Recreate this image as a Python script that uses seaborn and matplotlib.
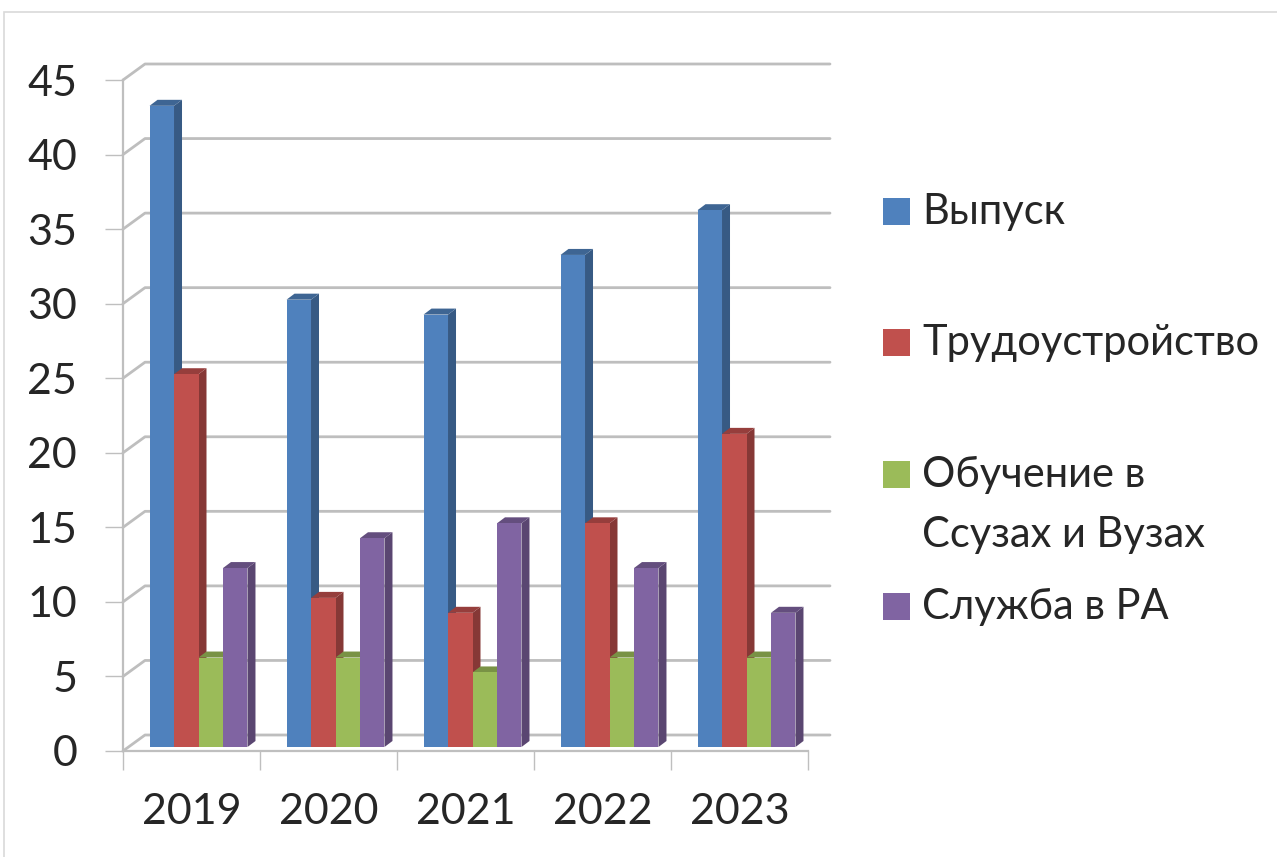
import numpy as np
import pandas as pd
import matplotlib
matplotlib.use("Agg")
import matplotlib.pyplot as plt
import matplotlib.colors as mcolors
from matplotlib.patches import Polygon, Rectangle
import seaborn as sns

# данные
years = ["2019", "2020", "2021", "2022", "2023"]
series = ["Выпуск", "Трудоустройство", "Обучение в\nСсузах и Вузах", "Служба в РА"]
vypusk = [43, 30, 29, 33, 36]
trud = [25, 10, 9, 15, 21]
obuch = [6, 6, 5, 6, 6]
sluzhba = [12, 14, 15, 12, 9]
colors = ["#4F81BD", "#C0504D", "#9BBB59", "#8064A2"]
yticks = list(range(0, 50, 5))

df = pd.DataFrame({"year": years, series[0]: vypusk, series[1]: trud,
                   series[2]: obuch, series[3]: sluzhba})
df = df.melt(id_vars="year", var_name="series", value_name="value")

sns.set_style("white")
plt.rcParams["font.family"] = ["Lato", "DejaVu Sans"]

W, H = 1277, 857
fig = plt.figure(figsize=(W / 100, H / 100), dpi=100)


def px_axes(x0, x1, y_bottom, y_top):
    # пиксели (сверху вниз) -> координаты фигуры
    return [x0 / W, (H - y_bottom) / H, (x1 - x0) / W, (y_bottom - y_top) / H]


# плоскость столбиков
BX0, BX1, BY0, BY1 = 130, 815, 747, 76
pxx = (BX1 - BX0) / 5
pxy = (BY0 - BY1) / 45
FRONT = (-7, -4)   # смещение передней плоскости (px, вверх +)
BACK = (15, 12)    # смещение задней стенки
DEPTH = (8, 6)     # глубина столбика

# передняя плоскость: оси и подписи
axf = fig.add_axes(px_axes(BX0 + FRONT[0], BX1 + FRONT[0], BY0 - FRONT[1], BY1 - FRONT[1]))
axf.set_xlim(-0.5, 4.5)
axf.set_ylim(0, 45)
axf.patch.set_alpha(0)
for s in ["top", "right"]:
    axf.spines[s].set_visible(False)
for s in ["left", "bottom"]:
    axf.spines[s].set_color("#BFBFBF")
    axf.spines[s].set_linewidth(1.6)
axf.set_yticks(yticks)
axf.set_yticklabels([str(v) for v in yticks], fontsize=31)
axf.set_xticks(np.arange(-0.5, 5, 1))
axf.set_xticklabels([])
axf.set_xticks(range(5), minor=True)
axf.set_xticklabels(years, minor=True, fontsize=31)
axf.tick_params(axis="y", length=13, width=1, color="#BFBFBF", pad=20, left=True)
axf.tick_params(axis="x", which="major", length=14, width=1, color="#BFBFBF", bottom=True)
axf.tick_params(axis="x", which="minor", length=0, pad=30)

# столбики
ax = fig.add_axes(px_axes(BX0, BX1, BY0, BY1))
sns.barplot(data=df, x="year", y="value", hue="series", hue_order=series,
            palette=colors, saturation=1, width=0.715, linewidth=0,
            legend=False, ax=ax)
ax.set_xlim(-0.5, 4.5)
ax.set_ylim(0, 45)
ax.axis("off")

# сетка на задней стенке и наклонные отрезки
fx, fy = FRONT[0] / pxx, FRONT[1] / pxy
bx, by = BACK[0] / pxx, BACK[1] / pxy
for v in yticks:
    ax.plot([-0.5 + fx, -0.5 + bx, 4.5 + bx], [v + fy, v + by, v + by],
            color="#BEBEBE", lw=2.0, zorder=0.5, clip_on=False)

# объём столбиков
dx, dy = DEPTH[0] / pxx, DEPTH[1] / pxy
for hi, cont in enumerate(ax.containers):
    dark = np.array(mcolors.to_rgb(colors[hi])) * 0.7
    top_c = np.array(mcolors.to_rgb(colors[hi])) * 0.78
    for bar in cont:
        x0 = bar.get_x()
        x1 = x0 + bar.get_width()
        h = bar.get_height()
        bar.set_zorder(3 + 2 * hi + 1)
        side = Polygon([(x1, 0), (x1, h), (x1 + dx, h + dy), (x1 + dx, dy)],
                       closed=True, facecolor=dark, lw=0, zorder=3 + 2 * hi, clip_on=False)
        top = Polygon([(x0, h), (x1, h), (x1 + dx, h + dy), (x0 + dx, h + dy)],
                      closed=True, facecolor=top_c, lw=0, zorder=3 + 2 * hi, clip_on=False)
        ax.add_patch(side)
        ax.add_patch(top)

# легенда
leg_y = [212, 343, 475, 607]
for name, c, y in zip(series, colors, leg_y):
    fig.patches.append(Rectangle((883 / W, (H - y - 13) / H), 27 / W, 27 / H,
                                 transform=fig.transFigure, facecolor=c, lw=0))
    if "\n" in name:
        fig.text(922 / W, (H - y - 30) / H, name, fontsize=30, va="center",
                 ha="left", linespacing=1.68)
    else:
        fig.text(922 / W, (H - y) / H, name, fontsize=30, va="center", ha="left")

# рамка
fig.patches.append(Rectangle((4 / W, -0.01), 1.1, (H - 12) / H + 0.01,
                             transform=fig.transFigure, fill=False,
                             edgecolor="#D9D9D9", lw=1.2))

fig.savefig("out.png", dpi=100)
